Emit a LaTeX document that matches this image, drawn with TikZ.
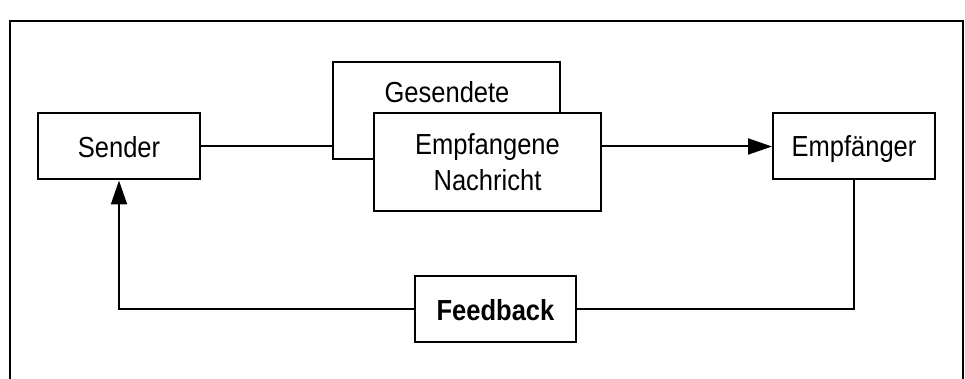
\documentclass[tikz,border=0pt]{standalone}
\usepackage{fontspec}
\setmainfont{Liberation Sans}[FakeStretch=0.88]
\usetikzlibrary{arrows.meta}
\newcommand{\boxfont}{\fontsize{14.5}{18.3}\selectfont}
\tikzset{
	box/.style={draw, line width=1pt, fill=white, inner sep=0pt, align=center,
		font=\boxfont},
	smallbox/.style={box, minimum width=81pt, minimum height=33pt, text depth=0pt},
	msgbox/.style={box, minimum width=113.5pt, minimum height=49pt},
	link/.style={line width=1pt},
	arrow/.style={link, -{Triangle[length=12pt, width=8pt]}}
}

\begin{document}
\begin{tikzpicture}[x=0.5pt, y=-0.5pt]
		\useasboundingbox (0,0) rectangle (965,379);
		\draw[line width=1pt] (10,379) -- (10,21) -- (963,21) -- (963,379);
		
		\node[smallbox] (sender) at (119,146.5) {Sender};
		\node[msgbox, minimum height=48.5pt] (gesendet) at (446.5,110.5) {};
		\node[font=\boxfont, text depth=0pt] (gesendettext) at (447,92) {Gesendete};
		\node[msgbox] (empfangen) at (487.5,162) {Empfangene\\Nachricht};
		\node[smallbox] (empfaenger) at (854,146.5) {Empf\"anger};
		\node[smallbox, minimum width=80.5pt, font=\boxfont\bfseries] (feedback) at (495.5,309.5) {Feedback};
		
		\draw[link] (sender.east) -- (sender -| gesendet.west);
		\draw[arrow] (empfaenger -| empfangen.east) -- (empfaenger.west);
		\draw[link] (empfaenger.south) |- (feedback.east);
		\draw[arrow] (feedback.west) -| (sender.south);
\end{tikzpicture}
\end{document}
